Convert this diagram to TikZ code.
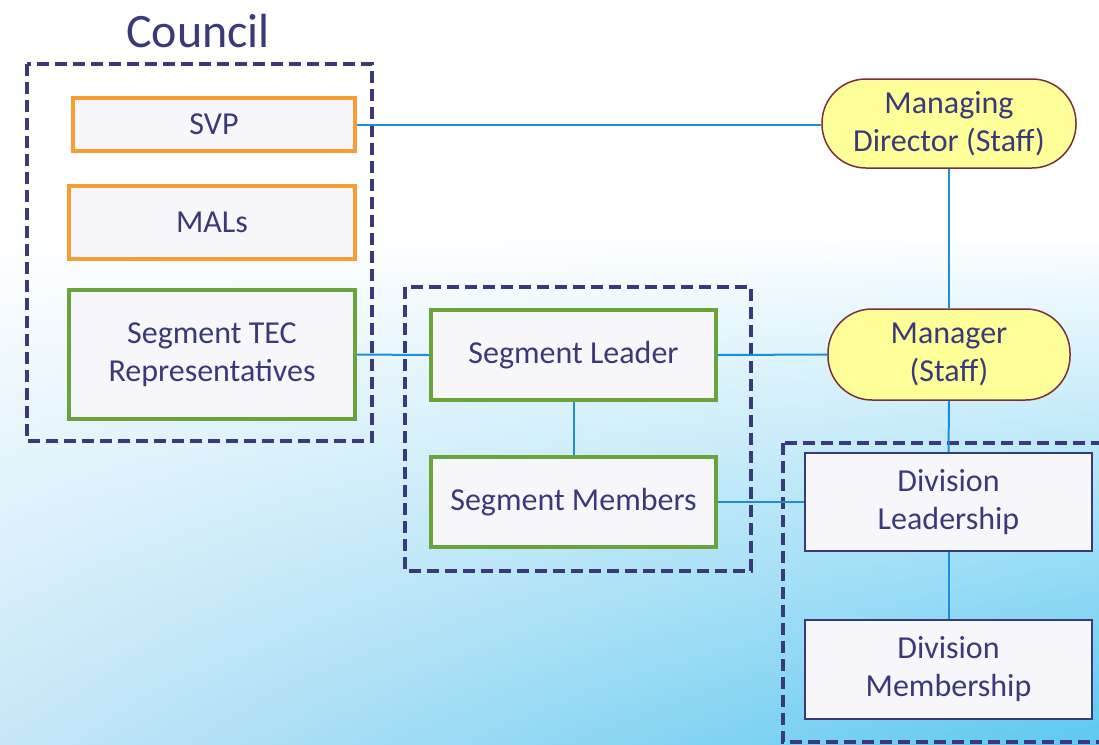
\documentclass[tikz,border=0pt]{standalone}
\usepackage{fontspec}
\setmainfont{Carlito}
\usetikzlibrary{shadings}
\definecolor{navy}{HTML}{3A3A7A}
\definecolor{orangeb}{HTML}{F99D32}
\definecolor{greenb}{HTML}{6AA33A}
\definecolor{yellowf}{HTML}{FFFF99}
\definecolor{redb}{HTML}{7A2E3E}
\definecolor{linkb}{HTML}{1B8FDB}
\definecolor{boxf}{HTML}{F7F7FB}
\definecolor{bgll}{HTML}{C6E7F7}
\definecolor{bglr}{HTML}{5CC8F0}
\begin{document}
\begin{tikzpicture}[x=1pt,y=-1pt,
  every node/.style={font=\fontsize{32}{38}\selectfont, text=navy, align=center, inner sep=0pt},
  basebox/.style={rectangle, fill=boxf},
  orangebox/.style={basebox, draw=orangeb, line width=4pt},
  greenbox/.style={basebox, draw=greenb, line width=4pt},
  divbox/.style={basebox, draw=navy, line width=2pt},
  staffbox/.style={rectangle, rounded corners=44pt, fill=yellowf, draw=redb, line width=1.5pt},
  group/.style={draw=navy, line width=4pt, dash pattern=on 12pt off 6pt},
  link/.style={draw=linkb, line width=2pt}]
\useasboundingbox (0,0) rectangle (1099,744);
\begin{scope}
\clip (0,0) rectangle (1099,744);
\fill[white] (0,0) rectangle (1099,744);
\shade[upper left=white, upper right=white, lower left=bgll, lower right=bglr] (0,230) rectangle (1099,744);
\end{scope}
% title
\node[font=\fontsize{48}{54}\selectfont] (council) at (198,31) {Council};
% group frames
\draw[group] (27,64) rectangle (372,441);
\draw[group] (405,287) rectangle (751,571);
\begin{scope}
\clip (0,0) rectangle (1099,744);
\draw[group] (783,443) rectangle (1130,742);
\end{scope}
% nodes
\node[orangebox, minimum width=282pt, minimum height=53pt] (svp) at (214,124.5) {SVP};
\node[orangebox, minimum width=286pt, minimum height=73pt] (mals) at (212,222.5) {MALs};
\node[greenbox, minimum width=286pt, minimum height=129pt] (tec) at (212,354.5) {Segment TEC\\Representatives};
\node[greenbox, minimum width=285pt, minimum height=90pt] (sl) at (573.5,355) {Segment Leader};
\node[greenbox, minimum width=285pt, minimum height=90pt] (sm) at (573.5,502) {Segment Members};
\node[staffbox, minimum width=254pt, minimum height=89pt] (md) at (949,123.5) {Managing\\Director (Staff)};
\node[staffbox, minimum width=242pt, minimum height=91pt] (mgr) at (949,354.5) {Manager\\(Staff)};
\node[divbox, minimum width=287pt, minimum height=98pt] (dl) at (948.5,502) {Division\\Leadership};
\node[divbox, minimum width=287pt, minimum height=99pt] (dm) at (948.5,669.5) {Division\\Membership};
% connectors
\draw[link] (svp.east) -- (md.west |- svp.east);
\draw[link] (md.south) -- (mgr.north);
\draw[link] (tec.east) -- (sl.west);
\draw[link] (sl.east) -- (mgr.west);
\draw[link] (sl.south) -- (sm.north);
\draw[link] (sm.east) -- (dl.west);
\draw[link] (mgr.south) -- (dl.north);
\draw[link] (dl.south) -- (dm.north);
\end{tikzpicture}
\end{document}
